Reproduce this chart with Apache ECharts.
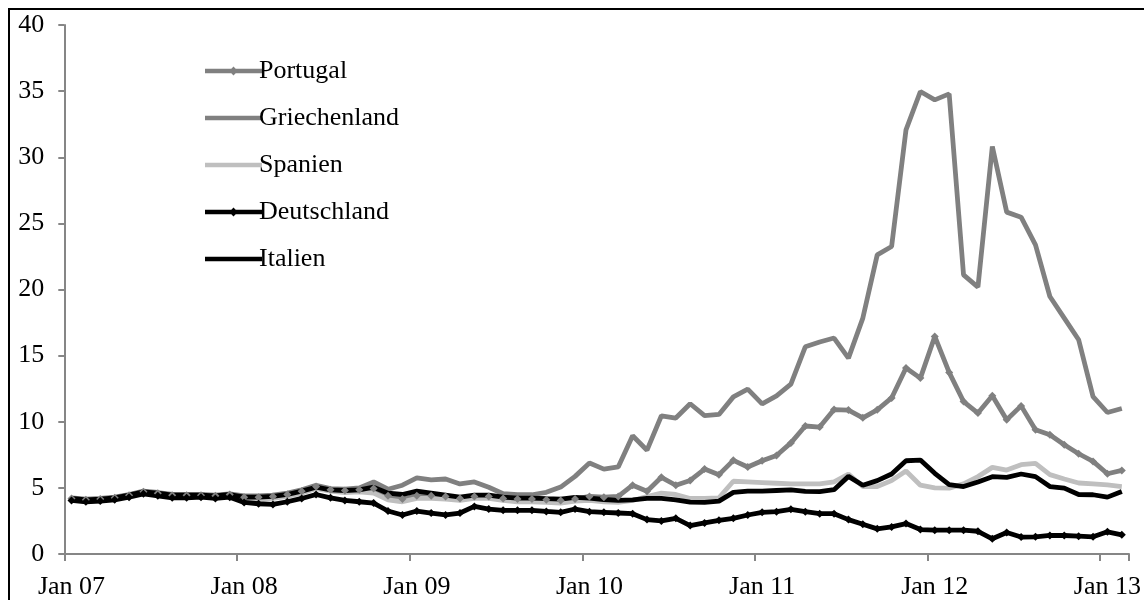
<!DOCTYPE html>
<html>
<head>
<meta charset="utf-8">
<script src="https://cdn.jsdelivr.net/npm/echarts@6/dist/echarts.min.js"></script>
<style>
html,body{margin:0;padding:0;background:#fff;}
#chart{width:1144px;height:600px;}
</style>
</head>
<body>
<div id="chart"></div>
<script>
// Monthly categories Jan 07 .. Feb 13
const monthNames = ['Jan','Feb','Mär','Apr','Mai','Jun','Jul','Aug','Sep','Okt','Nov','Dez'];
const years = ['07','08','09','10','11','12','13'];
const categoryCount = 74;
const categories = [];
for (let i = 0; i < categoryCount; i++) {
  categories.push(monthNames[i % 12] + ' ' + years[Math.floor(i / 12)]);
}

const yTicks = [0, 5, 10, 15, 20, 25, 30, 35, 40];

const portugal = [
  4.2, 4.1, 4.15, 4.25, 4.45, 4.7, 4.6, 4.45, 4.45, 4.45, 4.4, 4.5,
  4.3, 4.3, 4.35, 4.5, 4.75, 5.1, 4.85, 4.8, 4.85, 4.95, 4.4, 4.15, 4.4,
  4.4, 4.35, 4.2, 4.35, 4.35, 4.2, 4.15, 4.15, 4.1, 4.05, 4.15, 4.35, 4.3,
  4.35, 5.2, 4.75, 5.8, 5.2, 5.56, 6.42, 6.0, 7.08, 6.58, 7.05, 7.45, 8.4,
  9.68, 9.6, 10.92, 10.88, 10.3, 10.9, 11.8, 14.06, 13.3, 16.45, 13.73, 11.53, 10.66,
  11.96, 10.15, 11.2, 9.4, 9.02, 8.26, 7.58, 7.0, 6.07, 6.32
];
const griechenland = [
  4.25, 4.15, 4.2, 4.3, 4.5, 4.75, 4.65, 4.5, 4.5, 4.5, 4.45, 4.55,
  4.4, 4.4, 4.45, 4.6, 4.85, 5.2, 4.95, 4.9, 5.0, 5.45, 4.9, 5.2, 5.75,
  5.6, 5.67, 5.3, 5.45, 5.05, 4.56, 4.48, 4.48, 4.66, 5.06, 5.87, 6.88, 6.42,
  6.58, 8.94, 7.85, 10.45, 10.28, 11.36, 10.47, 10.55, 11.88, 12.47, 11.35, 11.95, 12.85,
  15.67, 16.03, 16.33, 14.81, 17.84, 22.62, 23.25, 32.07, 34.97, 34.34, 34.79, 21.11, 20.18,
  30.81, 25.85, 25.47, 23.38, 19.47, 17.84, 16.2, 11.9, 10.7, 11.0
];
const spanien = [
  4.15, 4.05, 4.1, 4.2, 4.4, 4.65, 4.55, 4.4, 4.4, 4.4, 4.35, 4.4,
  4.2, 4.15, 4.2, 4.35, 4.6, 4.95, 4.75, 4.65, 4.7, 4.6, 4.1, 3.95, 4.2,
  4.2, 4.15, 4.05, 4.2, 4.2, 4.05, 3.95, 3.95, 3.9, 3.85, 4.0, 4.05, 3.95,
  3.9, 4.05, 4.35, 4.6, 4.5, 4.2, 4.2, 4.25, 5.5, 5.45, 5.4, 5.35, 5.3,
  5.3, 5.3, 5.45, 6.05, 5.1, 5.1, 5.55, 6.28, 5.2, 5.0, 4.98, 5.3, 5.85,
  6.55, 6.35, 6.75, 6.85, 6.0, 5.67, 5.37, 5.3, 5.22, 5.1
];
const deutschland = [
  4.05, 3.95, 4.0, 4.1, 4.3, 4.55, 4.4, 4.25, 4.25, 4.3, 4.2, 4.3,
  3.9, 3.8, 3.75, 3.95, 4.2, 4.5, 4.25, 4.05, 3.95, 3.85, 3.25, 2.95, 3.25,
  3.1, 2.95, 3.1, 3.6, 3.4, 3.3, 3.3, 3.3, 3.22, 3.15, 3.4, 3.2, 3.15,
  3.1, 3.05, 2.6, 2.5, 2.7, 2.15, 2.35, 2.55, 2.7, 2.95, 3.15, 3.2, 3.38,
  3.2, 3.05, 3.05, 2.6, 2.25, 1.9, 2.05, 2.3, 1.85, 1.8, 1.8, 1.8, 1.72,
  1.15, 1.62, 1.28, 1.3, 1.4, 1.4, 1.35, 1.3, 1.68, 1.45
];
const italien = [
  4.2, 4.1, 4.15, 4.25, 4.45, 4.7, 4.6, 4.45, 4.45, 4.45, 4.4, 4.5,
  4.3, 4.3, 4.35, 4.5, 4.75, 5.05, 4.85, 4.8, 4.85, 5.05, 4.6, 4.5, 4.75,
  4.6, 4.45, 4.3, 4.45, 4.45, 4.3, 4.22, 4.22, 4.18, 4.15, 4.28, 4.22, 4.12,
  4.05, 4.1, 4.2, 4.2, 4.1, 3.92, 3.9, 4.0, 4.66, 4.75, 4.75, 4.8, 4.85,
  4.73, 4.72, 4.86, 5.87, 5.2, 5.55, 6.05, 7.05, 7.1, 6.1, 5.24, 5.1, 5.45,
  5.85, 5.8, 6.05, 5.85, 5.1, 4.98, 4.5, 4.48, 4.3, 4.73
];

const FONT = 'Liberation Serif';
const GRAY = '#808080';
const LIGHT = '#bfbfbf';
const BLACK = '#000000';

// legend icons: thick line, optionally with a diamond marker in the middle
const ICON_LINE = 'path://M0,0 M57,14 M0,4.75 L57,4.75 L57,9.25 L0,9.25 Z';
const ICON_LINE_DIAMOND = 'path://M0,0 M57,14 M0,4.75 L57,4.75 L57,9.25 L0,9.25 Z M28.5,2.6 L32.9,7 L28.5,11.4 L24.1,7 Z';

function lineSeries(name, data, color, withMarker) {
  return {
    name: name,
    type: 'line',
    data: data,
    symbol: withMarker ? 'diamond' : 'none',
    symbolSize: withMarker ? 8 : 0,
    showSymbol: withMarker,
    lineStyle: { color: color, width: 4.8 },
    itemStyle: { color: color },
    emphasis: { disabled: true },
    z: 2
  };
}

const chart = echarts.init(document.getElementById('chart'), null, { renderer: 'canvas' });
chart.setOption({
  animation: false,
  backgroundColor: '#ffffff',
  textStyle: { fontFamily: FONT },
  grid: { left: 64.3, right: 13.3, top: 25, bottom: 45.7 },
  legend: {
    orient: 'vertical',
    left: 200,
    top: 53,
    itemWidth: 57,
    itemHeight: 14,
    itemGap: 21,
    textStyle: { fontFamily: FONT, fontSize: 26, color: '#000', padding: [0, 0, 0, -8] },
    data: [
      { name: 'Portugal', icon: ICON_LINE_DIAMOND },
      { name: 'Griechenland', icon: ICON_LINE },
      { name: 'Spanien', icon: ICON_LINE },
      { name: 'Deutschland', icon: ICON_LINE_DIAMOND },
      { name: 'Italien', icon: ICON_LINE }
    ]
  },
  xAxis: {
    type: 'category',
    data: categories,
    boundaryGap: true,
    axisLine: { lineStyle: { color: '#868686', width: 2 } },
    axisTick: {
      show: true,
      interval: function (idx) { return idx % 12 === 0; },
      length: 7,
      lineStyle: { color: '#868686', width: 2 }
    },
    axisLabel: {
      interval: function (idx) { return idx % 12 === 0; },
      fontFamily: FONT,
      fontSize: 26,
      color: '#000',
      margin: 20
    },
    splitLine: { show: false }
  },
  yAxis: {
    type: 'value',
    min: yTicks[0],
    max: yTicks[yTicks.length - 1],
    interval: yTicks[1] - yTicks[0],
    axisLine: { show: true, lineStyle: { color: '#868686', width: 2 } },
    axisTick: { show: true, length: 6, lineStyle: { color: '#868686', width: 2 } },
    axisLabel: { fontFamily: FONT, fontSize: 26, color: '#000', margin: 20 },
    splitLine: { show: false }
  },
  graphic: [{
    type: 'rect',
    shape: { x: 9, y: 9, width: 1200, height: 700 },
    style: { fill: null, stroke: '#000', lineWidth: 2 },
    silent: true,
    z: 100
  }],
  series: [
    lineSeries('Portugal', portugal, GRAY, true),
    lineSeries('Griechenland', griechenland, GRAY, false),
    lineSeries('Spanien', spanien, LIGHT, false),
    lineSeries('Deutschland', deutschland, BLACK, true),
    lineSeries('Italien', italien, BLACK, false)
  ]
});
</script>
</body>
</html>
